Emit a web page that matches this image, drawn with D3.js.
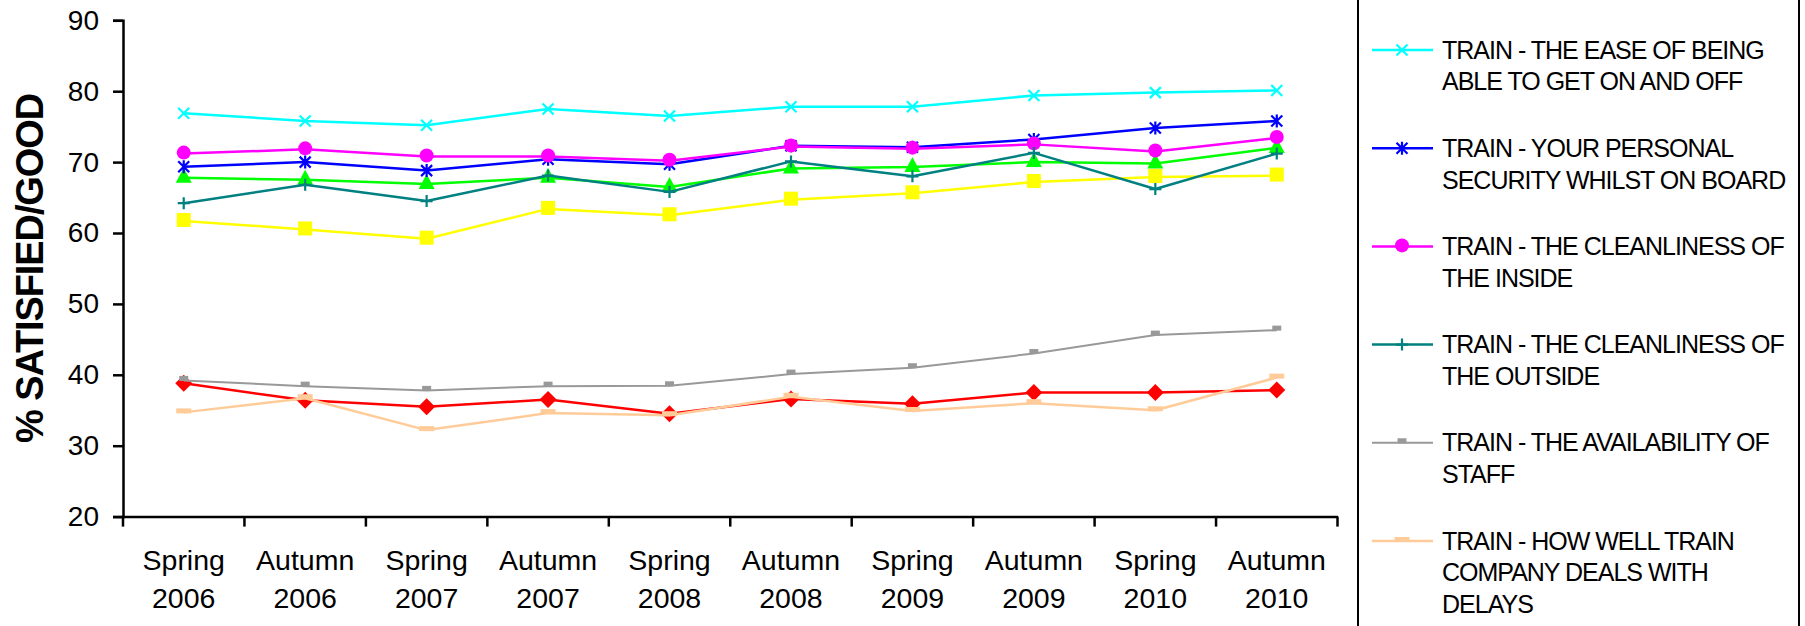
<!DOCTYPE html>
<html>
<head>
<meta charset="utf-8">
<script src="https://cdn.jsdelivr.net/npm/d3@7"></script>
<style>
  html, body { margin: 0; padding: 0; background: #fff; }
  svg { display: block; }
  text { font-family: "Liberation Sans", Arial, sans-serif; fill: #000; }
</style>
</head>
<body>
<svg id="chart" width="1805" height="626"></svg>
<script>
// ---------------- DATA ----------------
const categories = ["Spring 2006", "Autumn 2006", "Spring 2007", "Autumn 2007", "Spring 2008",
                    "Autumn 2008", "Spring 2009", "Autumn 2009", "Spring 2010", "Autumn 2010"];
const yTicks = [20, 30, 40, 50, 60, 70, 80, 90];
const yTitle = "% SATISFIED/GOOD";

// series not visible in the (cropped) legend
const seriesYellow = [61.7, 60.5, 59.2, 63.4, 62.5, 64.7, 65.6, 67.2, 67.9, 68.1];
const seriesGreen  = [67.8, 67.5, 66.9, 67.8, 66.5, 69.1, 69.3, 70.0, 69.8, 72.0];
const seriesRed    = [38.8, 36.4, 35.5, 36.5, 34.5, 36.6, 35.9, 37.5, 37.5, 37.85];
// series shown in legend
const easeOnOff     = [76.9, 75.8, 75.2, 77.5, 76.5, 77.8, 77.8, 79.4, 79.8, 80.1];
const security      = [69.35, 70.0, 68.8, 70.4, 69.7, 72.3, 72.1, 73.2, 74.8, 75.8];
const cleanInside   = [71.2, 71.8, 70.8, 70.8, 70.2, 72.2, 71.9, 72.5, 71.5, 73.4];
const cleanOutside  = [64.2, 66.8, 64.5, 68.1, 65.8, 70.1, 68.0, 71.3, 66.2, 71.2];
const staffAvail    = [39.2, 38.4, 37.8, 38.4, 38.45, 40.1, 41.0, 43.0, 45.6, 46.3];
const delays        = [34.7, 36.7, 32.2, 34.6, 34.3, 36.9, 34.9, 36.0, 35.0, 39.6];

const legendLabels = [
  ["TRAIN - THE EASE OF BEING", "ABLE TO GET ON AND OFF"],
  ["TRAIN - YOUR PERSONAL", "SECURITY WHILST ON BOARD"],
  ["TRAIN - THE CLEANLINESS OF", "THE INSIDE"],
  ["TRAIN - THE CLEANLINESS OF", "THE OUTSIDE"],
  ["TRAIN - THE AVAILABILITY OF", "STAFF"],
  ["TRAIN - HOW WELL TRAIN", "COMPANY DEALS WITH", "DELAYS"]
];

// drawing order (later = on top)
const series = [
  { values: seriesRed,    color: "#FF0000", marker: "diamond",  width: 2.5, legend: null },
  { values: seriesGreen,  color: "#00FF00", marker: "triangle", width: 2.5, legend: null },
  { values: seriesYellow, color: "#FFFF00", marker: "square",   width: 2.5, legend: null },
  { values: easeOnOff,    color: "#00FFFF", marker: "x",        width: 2.5, legend: 0 },
  { values: security,     color: "#0000FF", marker: "star",     width: 2.5, legend: 1 },
  { values: cleanInside,  color: "#FF00FF", marker: "circle",   width: 2.5, legend: 2 },
  { values: cleanOutside, color: "#008080", marker: "plus",     width: 2.5, legend: 3 },
  { values: staffAvail,   color: "#999999", marker: "smallrect",width: 2,   legend: 4 },
  { values: delays,       color: "#FFCC99", marker: "dash",     width: 2.5, legend: 5 }
];

// ---------------- LAYOUT ----------------
const svg = d3.select("#chart");
const plot = { left: 123, right: 1337.5, top: 20.3, bottom: 516.6 };

const x = d3.scaleBand().domain(categories).range([plot.left, plot.right]).padding(0);
const y = d3.scaleLinear().domain([20, 90]).range([plot.bottom, plot.top]);
const cx = d => x(d) + x.bandwidth() / 2;

// ---------------- AXES ----------------
const yAxis = d3.axisLeft(y).tickValues(yTicks).tickSize(10).tickPadding(14).tickFormat(d3.format("d"));
const gy = svg.append("g").attr("transform", `translate(${plot.left},0)`).call(yAxis);
gy.select(".domain").attr("stroke", "#000").attr("stroke-width", 2.5);
gy.selectAll(".tick line").attr("stroke", "#000").attr("stroke-width", 2.5);
gy.selectAll(".tick text").attr("font-size", 28).attr("font-family", '"Liberation Sans", Arial, sans-serif')
  .attr("fill", "#000");

const xAxis = d3.axisBottom(x).tickSize(0).tickFormat("");
const gx = svg.append("g").attr("transform", `translate(0,${plot.bottom})`).call(xAxis);
gx.select(".domain").attr("stroke", "#000").attr("stroke-width", 2.5);
// tick marks between categories (at band edges)
const edges = categories.map(c => x(c)).concat([x(categories[categories.length - 1]) + x.bandwidth()]);
gx.selectAll(".edge").data(edges).enter().append("line")
  .attr("x1", d => d).attr("x2", d => d).attr("y1", 0).attr("y2", 10)
  .attr("stroke", "#000").attr("stroke-width", 2.5);
// two-line category labels
const lbl = svg.append("g").selectAll("text").data(categories).enter().append("text")
  .attr("text-anchor", "middle").attr("font-size", 28.5);
lbl.append("tspan").attr("x", d => cx(d)).attr("y", 570).text(d => d.split(" ")[0]);
lbl.append("tspan").attr("x", d => cx(d)).attr("y", 608).text(d => d.split(" ")[1]);

// y title
svg.append("text")
  .attr("transform", `translate(42.5,${(plot.top + plot.bottom) / 2}) rotate(-90)`)
  .attr("text-anchor", "middle").attr("font-size", 38).attr("font-weight", "bold")
  .attr("letter-spacing", -1.1)
  .text(yTitle);

// ---------------- MARKERS ----------------
function drawMarker(g, type, color, px, py) {
  switch (type) {
    case "x": {
      const s = 5.5;
      g.append("path").attr("d", `M${px - s},${py - s}L${px + s},${py + s}M${px - s},${py + s}L${px + s},${py - s}`)
        .attr("stroke", color).attr("stroke-width", 2.2).attr("fill", "none");
      break;
    }
    case "star": {
      const s = 5.5;
      g.append("path").attr("d", `M${px - s},${py - s}L${px + s},${py + s}M${px - s},${py + s}L${px + s},${py - s}M${px},${py - s - 1}L${px},${py + s + 1}`)
        .attr("stroke", color).attr("stroke-width", 2.2).attr("fill", "none");
      break;
    }
    case "plus": {
      const s = 6;
      g.append("path").attr("d", `M${px - s},${py}L${px + s},${py}M${px},${py - s}L${px},${py + s}`)
        .attr("stroke", color).attr("stroke-width", 2.2).attr("fill", "none");
      break;
    }
    case "circle":
      g.append("circle").attr("cx", px).attr("cy", py - 1).attr("r", 7).attr("fill", color);
      break;
    case "square":
      g.append("rect").attr("x", px - 7).attr("y", py - 8).attr("width", 14).attr("height", 14).attr("fill", color);
      break;
    case "triangle":
      g.append("path").attr("d", `M${px},${py - 10}L${px + 8},${py + 5}L${px - 8},${py + 5}Z`).attr("fill", color);
      break;
    case "diamond":
      g.append("path").attr("d", `M${px},${py - 8.5}L${px + 8.5},${py}L${px},${py + 8.5}L${px - 8.5},${py}Z`).attr("fill", color);
      break;
    case "smallrect":
      g.append("rect").attr("x", px - 4.5).attr("y", py - 4.5).attr("width", 9).attr("height", 5).attr("fill", color);
      break;
    case "dash":
      g.append("rect").attr("x", px - 7.5).attr("y", py - 4).attr("width", 15).attr("height", 5).attr("fill", color);
      break;
  }
}

// ---------------- SERIES ----------------
const line = d3.line().x((d, i) => cx(categories[i])).y(d => y(d));
series.forEach(s => {
  const g = svg.append("g");
  g.append("path").datum(s.values).attr("d", line)
    .attr("fill", "none").attr("stroke", s.color).attr("stroke-width", s.width).attr("stroke-linejoin", "round");
  s.values.forEach((v, i) => drawMarker(g, s.marker, s.color, cx(categories[i]), y(v)));
});

// ---------------- LEGEND ----------------
const lg = svg.append("g");
lg.append("rect").attr("x", 1358).attr("y", -10).attr("width", 441).attr("height", 660)
  .attr("fill", "none").attr("stroke", "#000").attr("stroke-width", 2);
const legendSeries = series.filter(s => s.legend !== null).sort((a, b) => a.legend - b.legend);
legendSeries.forEach((s, k) => {
  const ly = 50 + k * 98.2;
  lg.append("line").attr("x1", 1372).attr("x2", 1433).attr("y1", ly).attr("y2", ly)
    .attr("stroke", s.color).attr("stroke-width", s.width);
  drawMarker(lg, s.marker, s.color, 1402, ly);
  const t = lg.append("text").attr("font-size", 25).attr("letter-spacing", -1.0);
  legendLabels[s.legend].forEach((txt, j) => {
    t.append("tspan").attr("x", 1442).attr("y", ly + 8.5 + j * 31.8).text(txt);
  });
});
</script>
</body>
</html>
